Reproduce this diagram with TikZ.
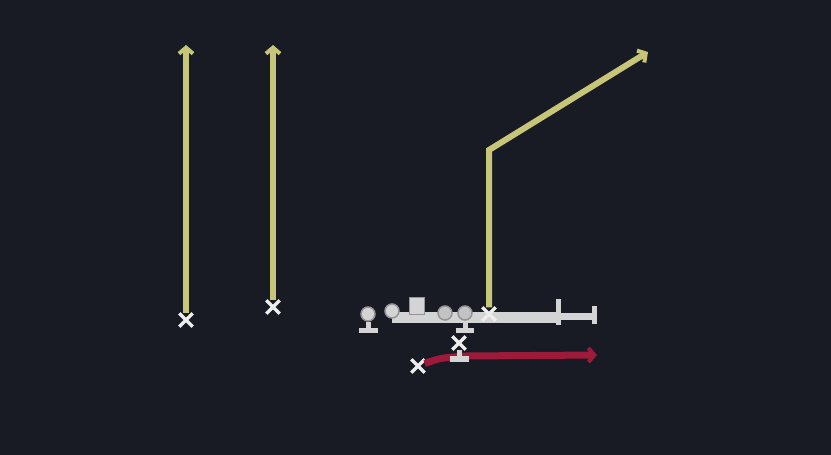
\documentclass[tikz,border=0pt]{standalone}
\usetikzlibrary{arrows.meta,shapes.misc}
\definecolor{field}{RGB}{24,27,35}
\definecolor{route}{RGB}{198,197,120}
\definecolor{motion}{RGB}{158,26,58}
\definecolor{block}{RGB}{212,212,212}
\tikzset{
    xmark/.style={cross out, draw=white!93!black, line width=3.4pt, minimum size=10pt, inner sep=0pt},
    player/.style={circle, fill=block, draw=block!70!black, line width=1.5pt, minimum size=14pt, inner sep=0pt},
    routeline/.style={route, line width=6pt, -{Straight Barb[length=6pt,width=14pt,line width=4pt]}},
    blockline/.style={block, line width=5pt}
}

\begin{document}
\begin{tikzpicture}[x=1pt,y=-1pt]
    \fill[field](0,0)rectangle(831,455);
    \useasboundingbox(0,0)rectangle(831,455);

    \draw[block, line width=11pt](392,317)--(560,317);
    \draw[blockline](558,299)--(558,325);
    \draw[block, line width=7pt](558,316)--(594,316);
    \draw[blockline](594,306)--(594,324);

    \node[player](p1) at (368,314) {};
    \draw[blockline](p1)--(368,330);
    \draw[blockline](359,330)--(378,330);
    \node[player](p2) at (392,311) {};
    \node[fill=block, draw=block!70!black, line width=1pt, minimum width=15pt, minimum height=17pt, inner sep=0pt](c) at (417,306) {};
    \node[player, fill=block!92!black](p3) at (445,313) {};
    \node[player, fill=block!92!black](p4) at (465,313) {};
    \draw[blockline](p4)--(465,330);
    \draw[blockline](456,330)--(474,330);

    \coordinate(t1) at (186,45);
    \coordinate(t2) at (273,45);
    \coordinate(b3) at (489,150);
    \coordinate(t3) at (648,52);
    \coordinate(t4) at (597,355);

    \node[xmark](x1) at (186,320) {};
    \node[xmark](x2) at (273,307) {};
    \node[xmark](x3) at (489,314) {};
    \node[xmark](x4) at (418,366) {};
    \node[xmark](x5) at (459,343) {};

    \draw[routeline](x1)--(t1);
    \draw[routeline](x2)--(t2);
    \draw[routeline, line join=miter](x3)--(b3)--(t3);

    \draw[motion, line width=7pt, -{Straight Barb[length=6pt,width=14pt,line width=4pt]}](x4).. controls (440,358) .. (466,356)--(t4);
    \draw[block, line width=5pt](x5)--(459,359);
    \draw[block, line width=6pt](450,359)--(469,359);
\end{tikzpicture}
\end{document}
